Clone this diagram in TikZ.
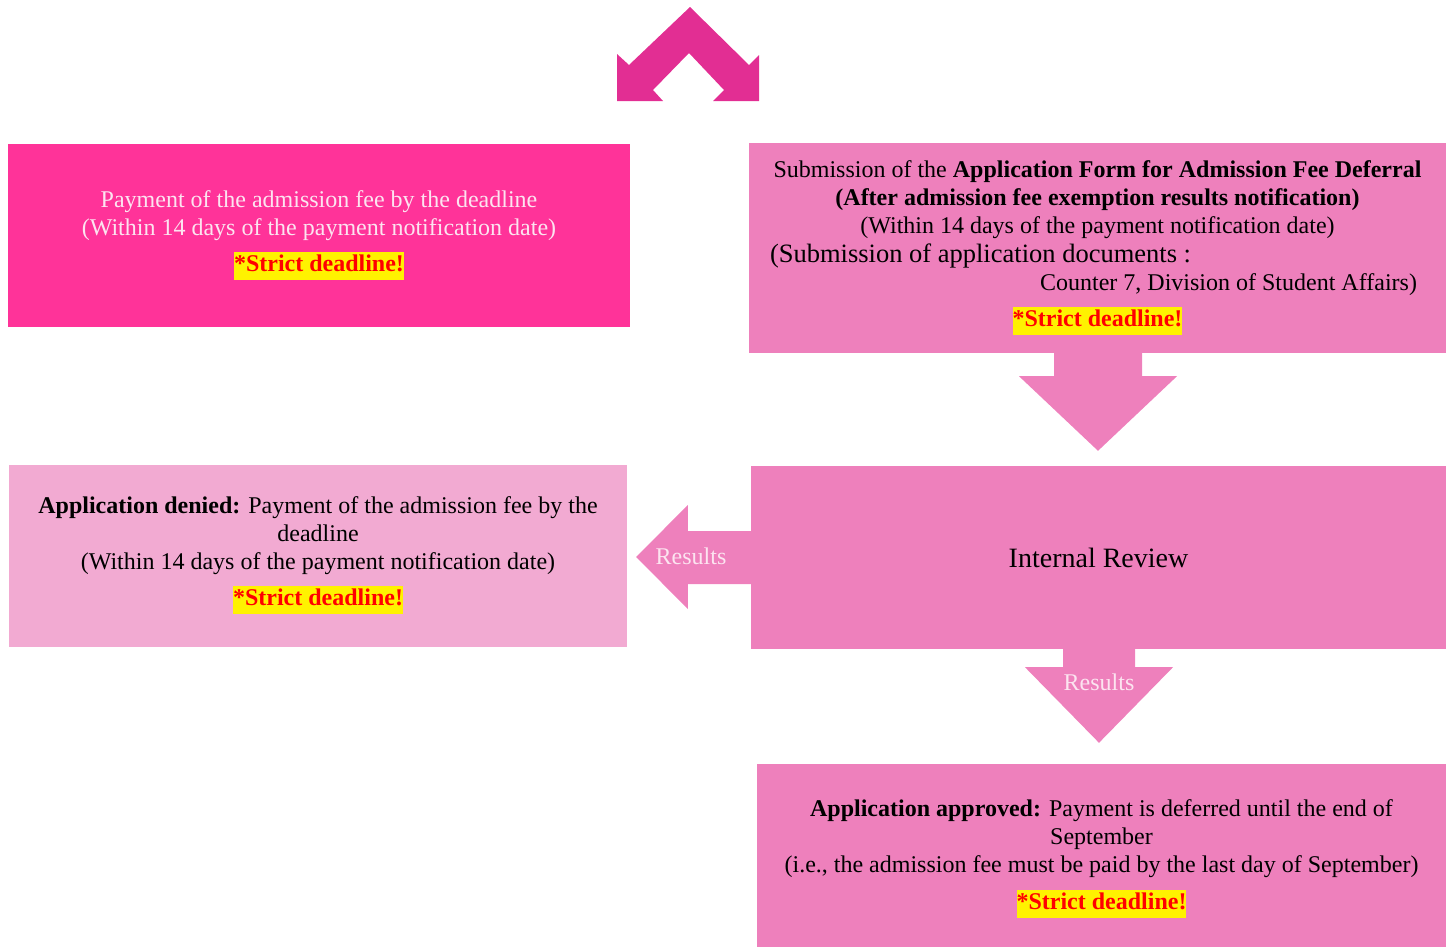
\documentclass[tikz,border=0pt]{standalone}
\usepackage{fontspec}
\setmainfont{Liberation Serif}
\usetikzlibrary{calc}

\definecolor{feepink}{HTML}{FF3399}
\definecolor{formpink}{HTML}{EE80BC}
\definecolor{deniedpink}{HTML}{F2AAD2}
\definecolor{topmagenta}{HTML}{E22E93}
\definecolor{palefont}{HTML}{FCE4F0}

\setlength{\fboxsep}{0pt}
\newcommand{\strictnote}{\colorbox{yellow}{\strut\textcolor{red}{\textbf{*Strict deadline!}}}}

\tikzset{
    stepbox/.style={rectangle, inner sep=0pt, align=center, font=\fontsize{24}{28}\selectfont},
    resultlabel/.style={text=palefont, font=\fontsize{24}{28}\selectfont},
}

\begin{document}
\begin{tikzpicture}[x=1pt,y=-1pt]
    \useasboundingbox (0,0) rectangle (1454,946);

    % Doppelpfeil oben
    \fill[topmagenta] (690,7) -- (749,65) -- (759,55) -- (759,101) -- (713,101) -- (724,90)
        -- (689,53) -- (653,90) -- (663,101) -- (617,101) -- (617,54) -- (629,65) -- cycle;

    % Kaesten
    \node[stepbox, fill=feepink, text=palefont, minimum width=622pt, minimum height=183pt] (fee) at (319,235)
        {Payment of the admission fee by the deadline\\
         (Within 14 days of the payment notification date)\\[8pt]
         \strictnote};

    \node[stepbox, fill=formpink, minimum width=697pt, minimum height=210pt] (form) at (1097.5,248)
        {Submission of the \textbf{Application Form for Admission Fee Deferral}\\
         \textbf{(After admission fee exemption results notification)}\\
         (Within 14 days of the payment notification date)\\[1pt]
         \makebox[655pt][l]{\fontsize{26.5}{28}\selectfont (Submission of application documents :}\\
         \makebox[639pt][r]{Counter 7, Division of Student Affairs)}\\[8pt]
         \strictnote};

    \node[stepbox, fill=formpink, minimum width=695pt, minimum height=183pt,
          font=\fontsize{28}{32}\selectfont] (review) at (1098.5,557.5) {Internal Review};

    \node[stepbox, fill=deniedpink, minimum width=618pt, minimum height=182pt] (denied) at (318,555.5)
        {\textbf{Application denied:} Payment of the admission fee by the\\
         deadline\\
         (Within 14 days of the payment notification date)\\[8pt]
         \strictnote};

    % unten abgeschnitten wie im Bild
    \node[stepbox, fill=formpink, minimum width=689pt, minimum height=190pt] (approved) at (1101.5,859)
        {\textbf{Application approved:} Payment is deferred until the end of\\
         September\\
         (i.e., the admission fee must be paid by the last day of September)\\[9pt]
         \strictnote};

    % Pfeil: Antrag -> Pruefung
    \fill[formpink] ($(form.south)+(-43.5,0)$) -- ++(0,23) -- ++(-35,0) -- ($(review.north)+(-0.5,-15)$)
        -- ($(form.south)+(79.5,23)$) -- ++(-35,0) -- ($(form.south)+(44.5,0)$) -- cycle;

    % Pfeil: Pruefung -> abgelehnt
    \fill[formpink] ($(review.west)+(0,-26.5)$) -- ++(-63,0) -- ++(0,-26) -- ($(denied.east)+(9,1.5)$)
        -- ($(review.west)+(-63,51.5)$) -- ++(0,-25) -- ($(review.west)+(0,26.5)$) -- cycle;
    \node[resultlabel] (resleft) at ($(review.west)!0.5!(denied.east)+(2,0)$) {Results};

    % Pfeil: Pruefung -> genehmigt
    \fill[formpink] ($(review.south)+(-35.5,0)$) -- ++(0,18) -- ++(-38,0) -- ($(approved.north)+(-2.5,-21)$)
        -- ($(review.south)+(74.5,18)$) -- ++(-38,0) -- ($(review.south)+(36.5,0)$) -- cycle;
    \node[resultlabel] (resdown) at ($(review.south)+(0.5,33)$) {Results};
\end{tikzpicture}
\end{document}
